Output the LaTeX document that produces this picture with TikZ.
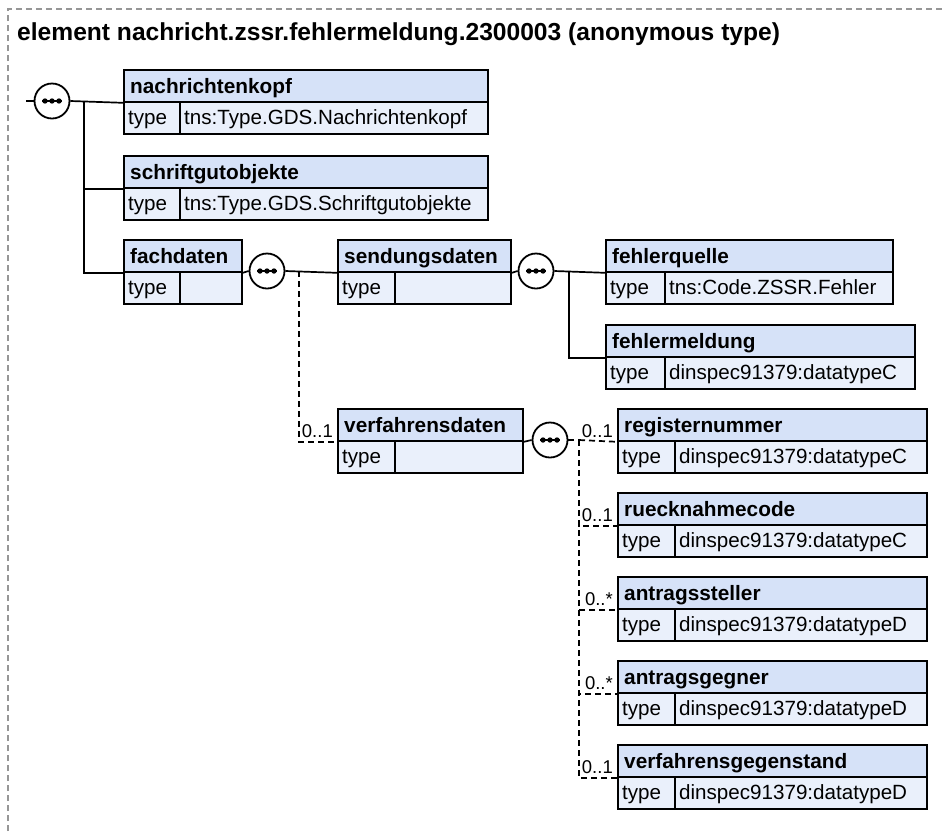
\documentclass[tikz,border=0pt]{standalone}
\usepackage{fontspec}
\setmainfont{Liberation Sans}
\usetikzlibrary{backgrounds}
\definecolor{hdrfill}{RGB}{214,226,248}
\definecolor{rowfill}{RGB}{234,240,251}
\definecolor{framegray}{RGB}{150,150,150}
\tikzset{
  hdrbox/.style={draw=black, fill=hdrfill, line width=1.8pt, inner sep=0pt, minimum height=32pt, rectangle},
  rowbox/.style={draw=black, fill=rowfill, line width=1.8pt, inner sep=0pt, minimum height=32pt, rectangle},
  titletext/.style={inner sep=0pt, font=\fontsize{20.8}{24}\selectfont\bfseries},
  bodytext/.style={inner sep=0pt, font=\fontsize{20.6}{24}\selectfont},
  cardtext/.style={inner sep=0pt, font=\fontsize{18.5}{20}\selectfont},
  seqc/.style={circle, draw=black, fill=white, line width=1.8pt, minimum size=35pt, inner sep=0pt},
  conn/.style={draw=black, line width=1.7pt},
  optconn/.style={draw=black, line width=1.7pt, dash pattern=on 6pt off 4pt},
}
\newcommand\elbox[7]{%
  \node[hdrbox, minimum width={(#4)-(#2)}, anchor=north west] (#1) at (#2,#3) {};
  \node[rowbox, minimum width={(#5)-(#2)}, anchor=north west] (#1-k) at (#2,#3+32) {};
  \node[rowbox, minimum width={(#4)-(#5)}, anchor=north west] (#1-v) at (#5,#3+32) {};
  \node[titletext, anchor=base west] (#1-n) at (#2+7,#3+24) {#6};
  \node[bodytext, anchor=base west] (#1-kt) at (#2+5,#3+55) {type};
  \node[bodytext, anchor=base west] (#1-vt) at (#5+5,#3+55) {#7};
}
\newcommand\seqsym[3]{%
  \node[seqc] (#1) at (#2,#3) {};
  \draw[line width=1.3pt] (#2-10,#3) -- (#2+10,#3);
  \foreach \dx in {-7,0,7} \fill (#2+\dx,#3) circle[radius=2.7];
}
\newcommand\card[3]{% name, box name, text
  \node[cardtext, anchor=base east] (#1) at ([xshift=-4pt,yshift=4pt]#2.south west) {#3};
}
\begin{document}
\begin{tikzpicture}[x=1pt, y=-1pt]
\useasboundingbox (0,0) rectangle (942,831);
% frame
\draw[framegray, line width=1.2pt, dash pattern=on 6pt off 4pt] (8,831) -- (8,9) -- (942,9);
\node[anchor=base west, inner sep=0pt, font=\fontsize{24.6}{28}\selectfont\bfseries] (title) at (17,40) {element nachricht.zssr.fehlermeldung.2300003 (anonymous type)};

\coordinate (rootin) at (26,101);
\coordinate (t1) at (84,101);
\coordinate (b2) at (299,271);
\coordinate (b3) at (569,271);
\coordinate (b4) at (579,440);

\elbox{nk}{123}{69}{487}{179}{nachrichtenkopf}{tns:Type.GDS.Nachrichtenkopf}
\elbox{sg}{123}{155}{487}{179}{schriftgutobjekte}{tns:Type.GDS.Schriftgutobjekte}
\elbox{fd}{123}{239}{241}{179}{fachdaten}{}
\elbox{sd}{337}{239}{510}{394}{sendungsdaten}{}
\elbox{fq}{605}{239}{892}{664}{fehlerquelle}{tns:Code.ZSSR.Fehler}
\elbox{fm}{605}{324}{914}{664}{fehlermeldung}{dinspec91379:datatypeC}
\elbox{vd}{337}{408}{522}{394}{verfahrensdaten}{}
\elbox{rn}{617}{408}{926}{674}{registernummer}{dinspec91379:datatypeC}
\elbox{rc}{617}{492}{926}{674}{ruecknahmecode}{dinspec91379:datatypeC}
\elbox{as}{617}{576}{926}{674}{antragssteller}{dinspec91379:datatypeD}
\elbox{ag}{617}{660}{926}{674}{antragsgegner}{dinspec91379:datatypeD}
\elbox{vg}{617}{744}{926}{674}{verfahrensgegenstand}{dinspec91379:datatypeD}

% sequence symbols
\seqsym{c1}{52}{101}
\seqsym{c2}{267}{271}
\seqsym{c3}{536}{271}
\seqsym{c4}{550}{440}

% connectors behind boxes and circles
\begin{scope}[on background layer]
\draw[conn] (rootin) -- (c1.west);
\draw[conn] (c1.east) -- (nk.south west);
\draw[conn] (t1) |- (sg.south west);
\draw[conn] (t1) |- (fd.south west);
\draw[conn] (fd.south east) -- (c2.west);
\draw[conn] (c2.east) -- (sd.south west);
\draw[optconn] (b2) |- (vd.south west);
\draw[conn] (sd.south east) -- (c3.west);
\draw[conn] (c3.east) -- (fq.south west);
\draw[conn] (b3) |- (fm.south west);
\draw[conn] (vd.south east) -- (c4.west);
\draw[optconn] (c4.east) -- (b4);
\draw[optconn] (b4) -- (rn.south west);
\draw[optconn] (b4) |- (rc.south west);
\draw[optconn] (b4) |- (as.south west);
\draw[optconn] (b4) |- (ag.south west);
\draw[optconn] (b4) |- (vg.south west);
\end{scope}

% cardinalities
\card{k-vd}{vd}{0..1}
\card{k-rn}{rn}{0..1}
\card{k-rc}{rc}{0..1}
\card{k-as}{as}{0..*}
\card{k-ag}{ag}{0..*}
\card{k-vg}{vg}{0..1}
\end{tikzpicture}
\end{document}
